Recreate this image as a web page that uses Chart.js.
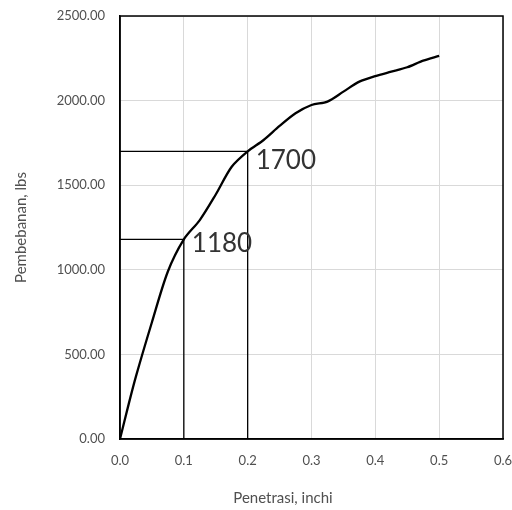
<!DOCTYPE html>
<html>
<head>
<meta charset="utf-8">
<script src="https://cdn.jsdelivr.net/npm/chart.js@4/dist/chart.umd.min.js"></script>
<style>
  html, body { margin: 0; padding: 0; background: #ffffff; }
  #wrap { width: 512px; height: 510px; }
</style>
</head>
<body>
<div id="wrap"><canvas id="c" width="512" height="510"></canvas></div>
<script>
// CBR load–penetration curve
const penetration = [0, 0.0125, 0.025, 0.05, 0.075, 0.1, 0.125, 0.15, 0.175, 0.2,
                     0.225, 0.25, 0.275, 0.3, 0.325, 0.35, 0.375, 0.4, 0.425, 0.45, 0.475, 0.5];
const load = [0, 190, 370, 690, 990, 1180, 1294, 1445, 1609, 1700,
              1767, 1850, 1925, 1974, 1994, 2053, 2112, 2145, 2171, 2197, 2236, 2264];

// Reading lines at 0.1" and 0.2"
const refPenetration = [0.1, 0.2];
const refLoad = [1180, 1700];
const refLabels = ['1180', '1700'];

// Axis ticks and titles
const xTicks = [0, 0.1, 0.2, 0.3, 0.4, 0.5, 0.6];
const yTicks = [0, 500, 1000, 1500, 2000, 2500];
const xTitle = 'Penetrasi, inchi';
const yTitle = 'Pembebanan, lbs';

const FONT = 'Lato, "Liberation Sans", sans-serif';
const TEXT = '#505050';

const curve = penetration.map((x, i) => ({ x, y: load[i] }));

const refSets = refPenetration.map((x, i) => ({
  data: [{ x: 0, y: refLoad[i] }, { x, y: refLoad[i] }, { x, y: 0 }],
  borderColor: '#000000',
  borderWidth: 1.3,
  pointRadius: 0,
  tension: 0,
  fill: false
}));

const decorations = {
  id: 'decorations',
  afterDatasetsDraw(chart) {
    const { ctx, chartArea: a, scales } = chart;
    ctx.save();
    // plot frame
    ctx.strokeStyle = '#000000';
    ctx.lineWidth = 1.5;
    ctx.strokeRect(a.left, a.top, a.right - a.left, a.bottom - a.top);

    // value labels beside the reading corners
    ctx.fillStyle = '#333333';
    ctx.font = '26px ' + FONT;
    ctx.textAlign = 'left';
    ctx.textBaseline = 'middle';
    const dy = [4, 9];
    refLabels.forEach((t, i) => {
      const px = scales.x.getPixelForValue(refPenetration[i]);
      const py = scales.y.getPixelForValue(refLoad[i]);
      ctx.fillText(t, px + 8, py + dy[i]);
    });

    // axis titles
    ctx.fillStyle = TEXT;
    ctx.font = '15px ' + FONT;
    ctx.textAlign = 'center';
    ctx.fillText(xTitle, 283, 498);
    ctx.translate(21, (a.top + a.bottom) / 2);
    ctx.rotate(-Math.PI / 2);
    ctx.fillText(yTitle, 0, 0);
    ctx.restore();
  }
};

new Chart(document.getElementById('c'), {
  type: 'line',
  data: {
    datasets: [
      {
        data: curve,
        borderColor: '#000000',
        borderWidth: 2.3,
        pointRadius: 0,
        tension: 0.3,
        fill: false
      },
      ...refSets
    ]
  },
  options: {
    responsive: false,
    animation: false,
    events: [],
    layout: { padding: { top: 16, right: 9, left: 0, bottom: 0 } },
    plugins: { legend: { display: false }, tooltip: { enabled: false } },
    scales: {
      x: {
        type: 'linear',
        min: 0, max: 0.6,
        afterBuildTicks: s => { s.ticks = xTicks.map(v => ({ value: v })); },
        afterFit: s => { s.height = 71; s.paddingLeft = 0; s.paddingRight = 0; },
        ticks: {
          padding: 14,
          color: TEXT,
          font: { family: FONT, size: 13 },
          maxRotation: 0,
          callback: v => Number(v).toFixed(1)
        },
        grid: { color: '#d9d9d9', lineWidth: 1, drawTicks: false },
        border: { display: true, color: '#000000', width: 1.5 }
      },
      y: {
        type: 'linear',
        min: 0, max: 2500,
        afterBuildTicks: s => { s.ticks = yTicks.map(v => ({ value: v })); },
        afterFit: s => { s.width = 120; s.paddingTop = 0; s.paddingBottom = 0; },
        ticks: {
          padding: 15,
          color: TEXT,
          font: { family: FONT, size: 13 },
          callback: v => Number(v).toFixed(2)
        },
        grid: { color: '#d9d9d9', lineWidth: 1, drawTicks: false },
        border: { display: true, color: '#000000', width: 1.5 }
      }
    }
  },
  plugins: [decorations]
});
</script>
</body>
</html>
